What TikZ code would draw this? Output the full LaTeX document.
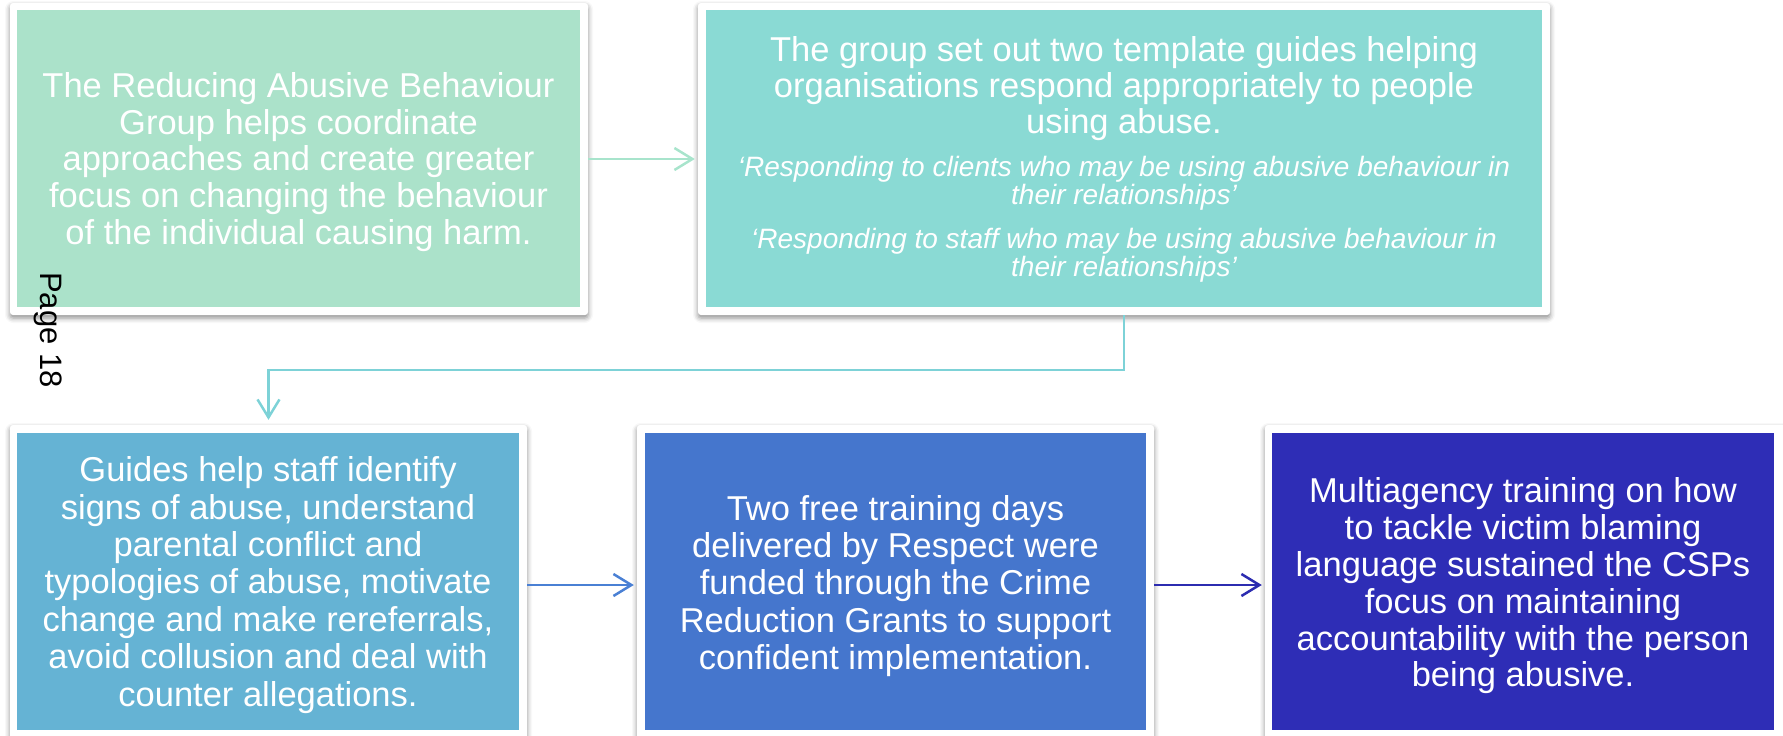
\documentclass[tikz,border=0pt]{standalone}
\usepackage{fontspec}
\setmainfont{Liberation Sans}
\usetikzlibrary{arrows.meta,shadows.blur}
\definecolor{cA}{RGB}{171,226,202}
\definecolor{cB}{RGB}{138,218,212}
\definecolor{cC}{RGB}{101,179,212}
\definecolor{cD}{RGB}{69,118,205}
\definecolor{cE}{RGB}{46,45,182}
\definecolor{aA}{RGB}{168,228,204}
\definecolor{aB}{RGB}{125,210,215}
\definecolor{aC}{RGB}{74,128,212}
\definecolor{aD}{RGB}{44,44,176}
\begin{document}
\begin{tikzpicture}[x=1pt,y=-1pt]
\useasboundingbox (0,0) rectangle (1783,736);
\tikzset{
  frame/.style={draw=none, fill=white, rounded corners=3pt, inner sep=0pt,
    blur shadow={shadow xshift=0pt, shadow yshift=-3pt, shadow blur radius=5pt, shadow opacity=45}},
  box/.style={inner sep=0pt, text=white, align=flush center, minimum height=297pt,
    font=\fontsize{34.5}{37}\selectfont},
  arr/.style={line width=2.5pt, shorten >=3pt,
    -{Straight Barb[length=18pt,width=22pt,line width=2.5pt]}},
}
% frames
\node[frame, minimum width=578pt, minimum height=312pt] (f1) at (299,159) {};
\node[frame, minimum width=852pt, minimum height=312pt] (f2) at (1124,159) {};
\node[frame, minimum width=517pt, minimum height=320pt] (f3) at (268.5,585) {};
\node[frame, minimum width=517pt, minimum height=320pt] (f4) at (895.5,585) {};
\node[frame, minimum width=525pt, minimum height=320pt] (f5) at (1527.5,585) {};
% boxes
\node[box, fill=cA, text width=563pt, font=\fontsize{34.5}{36.6}\selectfont] (b1) at (298.5,158.5)
  {\rule{0pt}{32pt}The Reducing Abusive Behaviour\\ Group helps coordinate\\ approaches and create greater\\ focus on changing the behaviour\\ of the individual causing harm.};
\node[box, fill=cB, text width=836pt] (b2) at (1124,158.5)
  {{\fontsize{34.5}{36}\selectfont\rule{0pt}{27pt}The group set out two template guides helping\\ organisations respond appropriately to people\\ using abuse.\par}\vspace{15pt}
   {\fontsize{28}{28}\selectfont\itshape ‘Responding to clients who may be using abusive behaviour in\\ their relationships’\par}\vspace{16pt}
   {\fontsize{28}{28}\selectfont\itshape ‘Responding to staff who may be using abusive behaviour in\\ their relationships’\par}};
\node[box, fill=cC, text width=502pt, font=\fontsize{34.5}{37.4}\selectfont] (b3) at (268,581.5)
  {\rule{0pt}{32pt}Guides help staff identify\\ signs of abuse, understand\\ parental conflict and\\ typologies of abuse, motivate\\ change and make rereferrals,\\ avoid collusion and deal with\\ counter allegations.};
\node[box, fill=cD, text width=501pt, font=\fontsize{34.5}{37.2}\selectfont] (b4) at (895.5,581.5)
  {\rule{0pt}{34pt}Two free training days\\ delivered by Respect were\\ funded through the Crime\\ Reduction Grants to support\\ confident implementation.};
\node[box, fill=cE, text width=502pt, font=\fontsize{34.5}{36.8}\selectfont] (b5) at (1523,581.5)
  {\rule{0pt}{34pt}Multiagency training on how\\ to tackle victim blaming\\ language sustained the CSPs\\ focus on maintaining\\ accountability with the person\\ being abusive.};
% connectors
\draw[arr, aA] (f1.east) -- (f2.west);
\draw[arr, aB, shorten >=5pt] (f2.south) -- ++(0,55) -| (f3.north);
\draw[arr, aC] (f3.east) -- (f4.west);
\draw[arr, aD] (f4.east) -- (f5.west);
% page label
\node[rotate=-90, font=\fontsize{31}{31}\selectfont, text=black, inner sep=0pt] (pg) at (48,330) {Page 18};
\end{tikzpicture}
\end{document}
